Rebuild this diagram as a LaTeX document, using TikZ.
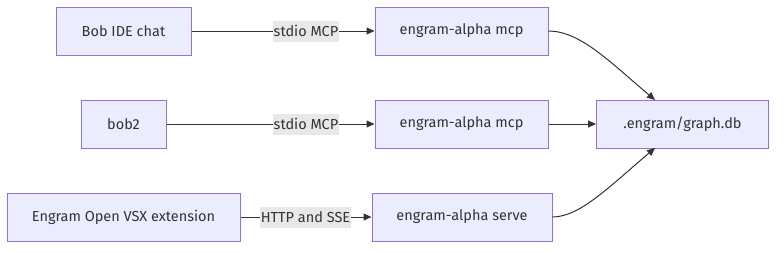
\documentclass[tikz,border=0pt]{standalone}
\usepackage{fontspec}
\setmainfont{Fira Sans}
\usetikzlibrary{arrows.meta}
\definecolor{boxfill}{HTML}{ECECFF}
\definecolor{boxline}{HTML}{9370DB}
\definecolor{edge}{HTML}{333333}
\definecolor{lblbg}{HTML}{E8E8E8}
\begin{document}
\begin{tikzpicture}[x=1pt,y=-1pt,
  box/.style={draw=boxline,fill=boxfill,line width=1pt,minimum height=48pt,inner sep=0pt,
    text=edge,font=\fontsize{14.5}{16}\selectfont},
  lbl/.style={fill=lblbg,text=edge,inner sep=1pt,minimum height=21pt,font=\fontsize{14.5}{16}\selectfont},
  conn/.style={draw=edge,line width=1pt,-{Triangle[length=8pt,width=7pt]}}]
\useasboundingbox (0,0) rectangle (784,252);
\node[box,minimum width=135pt] (bob) at (123.5,31) {Bob IDE chat};
\node[box,minimum width=85pt] (bob2) at (123.5,124) {bob2};
\node[box,minimum width=233pt] (vsx) at (123.5,217) {Engram Open VSX extension};
\node[box,minimum width=173pt] (mcp1) at (461.5,31) {engram-alpha mcp};
\node[box,minimum width=173pt] (mcp2) at (461.5,124) {engram-alpha mcp};
\node[box,minimum width=180pt] (serve) at (462,217) {engram-alpha serve};
\node[box,minimum width=172pt] (db) at (682.5,124) {.engram/graph.db};
\coordinate (dbtop) at (655,100);
\coordinate (dbbot) at (655,148);
\draw[conn] (bob) -- (mcp1);
\draw[conn] (bob2) -- (mcp2);
\draw[conn] (vsx) -- (serve);
\node[lbl] (l1) at (306,31) {stdio MCP};
\node[lbl] (l2) at (306,124) {stdio MCP};
\node[lbl] (l3) at (305.5,217) {HTTP and SSE};
\draw[conn] (mcp2) -- (db);
\draw[conn] (mcp1.east) .. controls (580,31) and (610,62) .. (dbtop);
\draw[conn] (serve.east) .. controls (580,217) and (610,186) .. (dbbot);
\end{tikzpicture}
\end{document}
